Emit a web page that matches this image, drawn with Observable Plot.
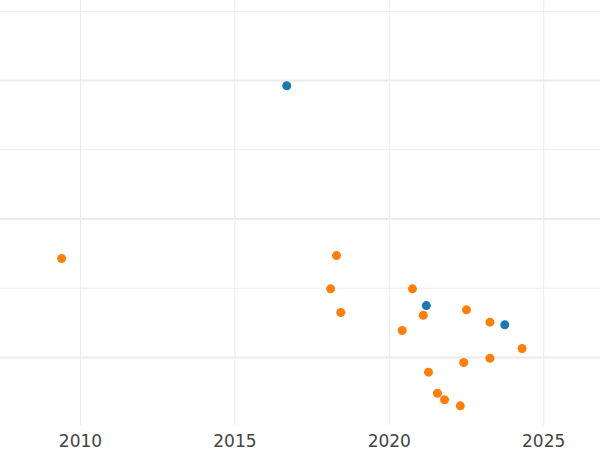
<!DOCTYPE html>
<html>
<head>
<meta charset="utf-8">
<script src="https://cdn.jsdelivr.net/npm/d3@7"></script>
<script src="https://cdn.jsdelivr.net/npm/@observablehq/plot@0.6"></script>
<style>
  html, body { margin: 0; padding: 0; background: #fff; }
  #chart svg { display: block; }
</style>
</head>
<body>
<div id="chart"></div>
<script>
// Series A (blue)
const seriesAYears = [2016.68, 2021.20, 2023.74];
const seriesAValues = [19.62, 3.75, 2.36];
// Series B (orange)
const seriesBYears = [2009.39, 2018.29, 2018.10, 2018.43, 2020.42, 2020.75, 2021.10, 2021.27, 2021.56, 2021.79, 2022.30, 2022.41, 2022.50, 2023.26, 2023.26, 2024.30];
const seriesBValues = [7.15, 7.36, 4.96, 3.25, 1.95, 4.96, 3.05, -1.06, -2.58, -3.05, -3.49, -0.36, 3.44, 2.55, -0.05, 0.65];

const xTicks = [2010, 2015, 2020, 2025];
const yMajor = [0, 10, 20];
const yMinor = [5, 15, 25];

const seriesA = seriesAYears.map((x, i) => ({x, y: seriesAValues[i]}));
const seriesB = seriesBYears.map((x, i) => ({x, y: seriesBValues[i]}));

const chart = Plot.plot({
  width: 600,
  height: 450,
  marginTop: 0,
  marginRight: 0,
  marginLeft: 0,
  marginBottom: 25,
  style: {fontFamily: "DejaVu Sans", background: "#fff"},
  x: {domain: [2007.41, 2026.84], ticks: xTicks, tickFormat: d => String(d), tickSize: 0, tickPadding: 10, label: null},
  y: {domain: [-4.91, 25.78], axis: null},
  marks: [
    Plot.ruleY(yMinor, {stroke: "#ebebeb", strokeWidth: 1}),
    Plot.ruleY(yMajor, {stroke: "#ebebeb", strokeWidth: 2}),
    Plot.ruleX(xTicks, {stroke: "#ebebeb", strokeWidth: 1}),
    Plot.axisX({ticks: xTicks, tickFormat: d => String(d), tickSize: 0, tickPadding: 9, fontSize: 17, color: "#444", label: null}),
    Plot.dot(seriesA, {x: "x", y: "y", r: 4.5, fill: "#1f77b4", stroke: "none"}),
    Plot.dot(seriesB, {x: "x", y: "y", r: 4.5, fill: "#ff7f0e", stroke: "none"})
  ]
});
document.getElementById("chart").appendChild(chart);
</script>
</body>
</html>
